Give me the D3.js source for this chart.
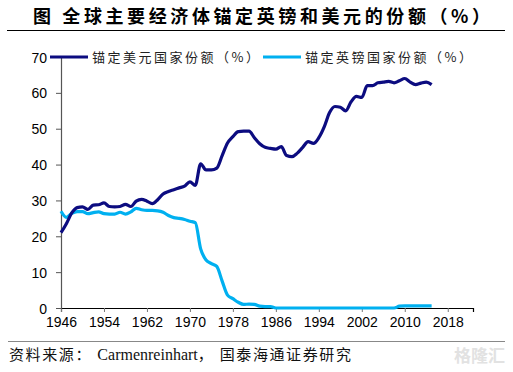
<!DOCTYPE html>
<html>
<head>
<meta charset="utf-8">
<script src="https://cdn.jsdelivr.net/npm/d3@7"></script>
<style>
  body { margin: 0; background: #fff; }
  svg { display: block; }
  .tick text { font-family: "Liberation Sans", Arial, sans-serif; font-size: 14px; fill: #000; }
</style>
</head>
<body>
<script>
const width = 513,
      height = 372;

// data
const years = d3.range(1946, 2016);
const usdShare = [
  21, 23.5, 26.5, 28, 28.2, 27.5, 28.7, 28.8, 29.3, 28.3,
  28.2, 28.3, 28.9, 28.3, 29.8, 30.3, 29.8, 29.1, 30.2, 31.8,
  32.5, 33, 33.5, 34, 35.2, 34.2, 40.2, 38.5, 38.5, 39,
  42.5, 46, 47.8, 49.2, 49.3, 49.3, 47.5, 45.8, 44.8, 44.5,
  44.3, 45, 42.5, 42.2, 43.2, 44.8, 46.4, 45.9, 47.5, 50.5,
  54.5, 56.2, 56, 55, 57.5, 59, 58.7, 62, 62, 62.8,
  63, 63.2, 62.8, 63.4, 64, 63, 62.3, 62.7, 63, 62.3
];
const gbpShare = [
  27, 25.3, 26.4, 26.9, 26.9, 26.3, 26.6, 26.8, 26.3, 26.2,
  26.2, 26.7, 26.2, 26.8, 27.8, 27.4, 27.2, 27.2, 27.1, 26.7,
  25.8, 25.2, 25, 24.7, 24.2, 23.8, 16.5, 13.4, 12.4, 11.6,
  7.5, 3.6, 2.6, 1.6, 1.0, 1.1, 1.0, 0.5, 0.4, 0.4,
  0, 0, 0, 0, 0, 0, 0, 0, 0, 0,
  0, 0, 0, 0, 0, 0, 0, 0, 0, 0,
  0, 0, 0, 0.5, 0.6, 0.6, 0.6, 0.6, 0.6, 0.6
];
const xTicks = [1946, 1954, 1962, 1970, 1978, 1986, 1994, 2002, 2010, 2018];
const yTicks = [0, 10, 20, 30, 40, 50, 60, 70];
const seriesNames = ["锚定美元国家份额（%）", "锚定英镑国家份额（%）"];
const seriesColors = ["#0c0c80", "#00b0f0"];

const title = "图  全球主要经济体锚定英镑和美元的份额（%）";
// source line in three runs: CJK, latin, CJK
const sourceParts = ["资料来源： ", "Carmenreinhart", "， 国泰海通证券研究"];

const svg = d3.select("body")
    .append("svg")
    .attr("width", width)
    .attr("height", height);

// title + rule
svg.append("text")
    .attr("x", 33)
    .attr("y", 23)
    .style("font-family", "'Noto Sans CJK SC', sans-serif")
    .style("font-size", "18px")
    .style("font-weight", "bold")
    .style("letter-spacing", "3.6px")
    .text(title);

svg.append("line")
    .attr("x1", 7).attr("x2", 505)
    .attr("y1", 30.5).attr("y2", 30.5)
    .attr("stroke", "#000")
    .attr("stroke-width", 1);

var x = d3.scaleLinear()
    .domain([1946, 2022.7])
    .range([61, 473]);

var y = d3.scaleLinear()
    .domain([0, 70])
    .range([308, 57]);

// axes
const xAxis = svg.append("g")
    .attr("transform", "translate(0,308)")
    .call(d3.axisBottom(x).tickValues(xTicks).tickFormat(d3.format("d")).tickSize(4).tickPadding(5));
xAxis.select(".domain").attr("stroke", "#000").attr("stroke-width", 1.2);
xAxis.selectAll(".tick line").attr("stroke", "#777");

const yAxis = svg.append("g")
    .attr("transform", "translate(61,0)")
    .call(d3.axisLeft(y).tickValues(yTicks).tickSize(5).tickPadding(9));
yAxis.select(".domain").attr("stroke", "#555").attr("stroke-width", 1.2);
yAxis.selectAll(".tick line").attr("stroke", "#555");
yAxis.selectAll(".tick text").attr("dy", "0.36em");

// lines
const line = d3.line()
    .x((d, i) => x(years[i]))
    .y(d => y(d))
    .curve(d3.curveMonotoneX);

const series = [gbpShare, usdShare];
const colorsFor = [seriesColors[1], seriesColors[0]];

svg.append("g")
    .selectAll("path")
    .data(series)
    .enter().append("path")
    .attr("fill", "none")
    .attr("stroke", (d, i) => colorsFor[i])
    .attr("stroke-width", 3.2)
    .attr("stroke-linejoin", "round")
    .attr("d", line);

// legend
const legendX = [50, 263];
const legend = svg.append("g")
    .selectAll("g")
    .data(seriesNames)
    .enter().append("g")
    .attr("transform", (d, i) => `translate(${legendX[i]},57)`);

legend.append("line")
    .attr("x1", 0).attr("x2", 38)
    .attr("stroke", (d, i) => seriesColors[i])
    .attr("stroke-width", 3);

legend.append("text")
    .attr("x", 42)
    .attr("y", 5)
    .style("font-family", "'Noto Sans CJK SC', sans-serif")
    .style("font-size", "13px")
    .style("letter-spacing", "2.5px")
    .style("fill", "#222")
    .text(d => d);

// source rule + text
svg.append("line")
    .attr("x1", 8).attr("x2", 505)
    .attr("y1", 341.5).attr("y2", 341.5)
    .attr("stroke", "#888")
    .attr("stroke-width", 1);

svg.append("text")
    .attr("x", 9)
    .attr("y", 360)
    .style("font-family", "'Liberation Serif', 'Noto Sans CJK SC', serif")
    .style("fill", "#111")
    .selectAll("tspan")
    .data(sourceParts)
    .enter().append("tspan")
    .style("font-size", (d, i) => i === 1 ? "16px" : "15px")
    .style("letter-spacing", (d, i) => i === 1 ? "0px" : "1.6px")
    .text(d => d);

// watermark
svg.append("text")
    .attr("x", 505)
    .attr("y", 362)
    .attr("text-anchor", "end")
    .style("font-family", "'Noto Sans CJK SC', sans-serif")
    .style("font-size", "17px")
    .style("font-weight", "bold")
    .style("fill", "#e2e2e2")
    .text("格隆汇");
</script>
</body>
</html>
